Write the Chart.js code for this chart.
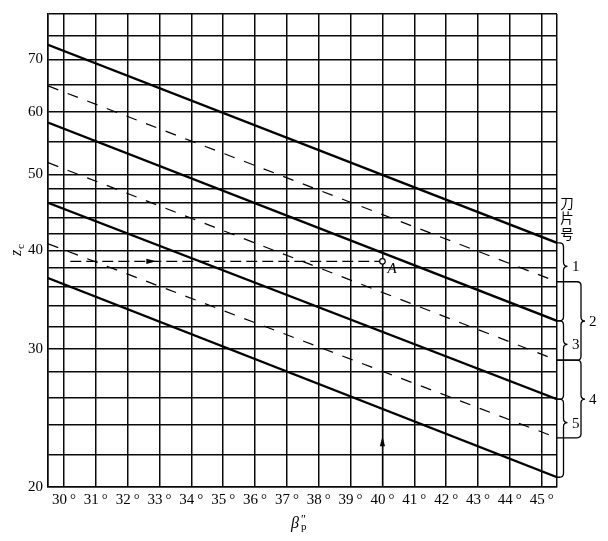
<!DOCTYPE html>
<html>
<head>
<meta charset="utf-8">
<script src="https://cdn.jsdelivr.net/npm/chart.js@4.4.0/dist/chart.umd.min.js"></script>
<style>
html, body { margin: 0; padding: 0; background: #fff; }
</style>
</head>
<body>
<canvas id="zc_chart" width="608" height="541"></canvas>
<script>
// beta_p'' range covered by the lines (degrees)
var x_start = 29.5;
var x_end = 45.48;
var x_ticks = [30, 31, 32, 33, 34, 35, 36, 37, 38, 39, 40, 41, 42, 43, 44, 45];

// z_c grid (log axis) and labelled values
var y_ticks = [20, 22, 24, 26, 28, 30, 32, 34, 36, 38, 40, 42, 44, 46, 48, 50, 55, 60, 65, 70, 75, 80];
var y_labels = [20, 30, 40, 50, 60, 70];

// solid boundary lines: z_c at the left edge / right edge
var solid_left = [73.1, 58.2, 46.0, 36.9];
var solid_right = [40.9, 32.55, 25.87, 20.58];

// dashed boundary lines
var dashed_left = [64.8, 51.75, 40.8];
var dashed_right = [36.5, 29.0, 23.1];

// cutter numbers (刀片号)
var cutter_solid = ['1', '3', '5'];
var cutter_dashed = ['2', '4'];

// worked example, point A
var point_a = { x: 40, y: 38.75 };
var guide_start = 30.2;
var guide_arrow = 32.9;
var up_arrow = 23.2;

var serif = '"Liberation Serif", "DejaVu Serif", serif';
var ink = '#0a0a0a';

var datasets = [];
for (var i = 0; i < solid_left.length; i++) {
	datasets.push({
		data: [{ x: x_start, y: solid_left[i] }, { x: x_end, y: solid_right[i] }],
		borderColor: '#000',
		borderWidth: 2.4,
		pointRadius: 0
	});
}
for (var j = 0; j < dashed_left.length; j++) {
	datasets.push({
		data: [{ x: x_start, y: dashed_left[j] }, { x: x_end, y: dashed_right[j] }],
		borderColor: '#000',
		borderWidth: 1.2,
		borderDash: [11, 10],
		pointRadius: 0
	});
}
datasets.push({
	data: [{ x: guide_start, y: point_a.y }, { x: point_a.x, y: point_a.y }],
	borderColor: '#000',
	borderWidth: 1.2,
	borderDash: [11, 5],
	pointRadius: [0, 2.8],
	pointBackgroundColor: '#fff',
	pointBorderColor: '#000',
	pointBorderWidth: 1.2
});

function brace(ctx, x0, xv, y1, y2, yt, r) {
	ctx.beginPath();
	ctx.moveTo(x0, y1);
	ctx.lineTo(xv - r, y1);
	ctx.quadraticCurveTo(xv, y1, xv, y1 + r);
	ctx.lineTo(xv, yt - r);
	ctx.quadraticCurveTo(xv, yt, xv + r, yt);
	ctx.quadraticCurveTo(xv, yt, xv, yt + r);
	ctx.lineTo(xv, y2 - r);
	ctx.quadraticCurveTo(xv, y2, xv - r, y2);
	ctx.lineTo(x0, y2);
	ctx.stroke();
}

var white_bg = {
	id: 'white_bg',
	beforeDraw: function(chart) {
		var ctx = chart.ctx;
		ctx.save();
		ctx.fillStyle = '#fff';
		ctx.fillRect(0, 0, chart.width, chart.height);
		ctx.restore();
	}
};

var notes = {
	id: 'notes',
	afterDatasetsDraw: function(chart) {
		var ctx = chart.ctx;
		var xs = chart.scales.x, ys = chart.scales.y;
		var area = chart.chartArea;
		ctx.save();
		ctx.strokeStyle = '#000';
		ctx.fillStyle = '#000';
		ctx.lineWidth = 1.2;

		// arrow on the horizontal guide
		var ay = ys.getPixelForValue(point_a.y);
		var tx = xs.getPixelForValue(guide_arrow);
		ctx.beginPath();
		ctx.moveTo(tx, ay);
		ctx.lineTo(tx - 10, ay - 2.6);
		ctx.lineTo(tx - 10, ay + 2.6);
		ctx.closePath();
		ctx.fill();

		// vertical guide at 40 with arrow
		var ax = xs.getPixelForValue(point_a.x);
		var ty = ys.getPixelForValue(up_arrow);
		ctx.beginPath();
		ctx.moveTo(ax, area.bottom);
		ctx.lineTo(ax, ay + 3);
		ctx.stroke();
		ctx.beginPath();
		ctx.moveTo(ax, ty);
		ctx.lineTo(ax - 2.6, ty + 10);
		ctx.lineTo(ax + 2.6, ty + 10);
		ctx.closePath();
		ctx.fill();

		ctx.font = 'italic 15px ' + serif;
		ctx.textBaseline = 'alphabetic';
		ctx.textAlign = 'left';
		ctx.fillText('A', ax + 5, ay + 12);

		// braces for the cutter numbers
		ctx.lineWidth = 1.3;
		ctx.font = '15px ' + serif;
		ctx.textBaseline = 'middle';
		var x0 = area.right;
		for (var i = 0; i < cutter_solid.length; i++) {
			var y1 = ys.getPixelForValue(solid_right[i]);
			var y2 = ys.getPixelForValue(solid_right[i + 1]);
			var yt = y1 + (y2 - y1) * 0.3;
			brace(ctx, x0, x0 + 6.5, y1, y2, yt, 4);
			ctx.fillText(cutter_solid[i], x0 + 15, yt + 1);
		}
		for (var j = 0; j < cutter_dashed.length; j++) {
			var d1 = ys.getPixelForValue(dashed_right[j]);
			var d2 = ys.getPixelForValue(dashed_right[j + 1]);
			var dt = (d1 + d2) / 2;
			brace(ctx, x0, x0 + 24, d1, d2, dt, 4);
			ctx.fillText(cutter_dashed[j], x0 + 32, dt + 1);
		}

		// 刀片号 written top to bottom
		ctx.font = '13.5px "Noto Sans CJK SC"';
		ctx.textAlign = 'center';
		var chars = ['刀', '片', '号'];
		for (var k = 0; k < chars.length; k++) {
			ctx.fillText(chars[k], x0 + 10, 202.5 + k * 15.5);
		}

		// axis titles
		ctx.textAlign = 'left';
		ctx.textBaseline = 'alphabetic';
		ctx.save();
		ctx.translate(21, 256);
		ctx.rotate(-Math.PI / 2);
		ctx.font = 'italic 16px ' + serif;
		ctx.fillText('z', 0, 0);
		ctx.font = '11px ' + serif;
		ctx.fillText('c', 7, 3);
		ctx.restore();

		ctx.font = 'italic 16px ' + serif;
		ctx.fillText('β', 291, 528);
		ctx.font = '12px ' + serif;
		ctx.fillText('″', 301, 523);
		ctx.font = '11px ' + serif;
		ctx.fillText('p', 301, 530);
		ctx.restore();
	}
};

var zc_chart = new Chart(document.getElementById('zc_chart'), {
	type: 'line',
	data: { datasets: datasets },
	plugins: [white_bg, notes],
	options: {
		responsive: false,
		animation: false,
		layout: { padding: { top: 13, right: 51, left: 0, bottom: 0 } },
		plugins: { legend: { display: false }, tooltip: { enabled: false } },
		scales: {
			x: {
				type: 'linear',
				min: x_start,
				max: x_end,
				afterBuildTicks: function(scale) {
					var t = [{ value: x_start }];
					x_ticks.forEach(function(v) { t.push({ value: v }); });
					t.push({ value: x_end });
					scale.ticks = t;
				},
				afterFit: function(scale) { scale.height = 54; },
				grid: { color: ink, lineWidth: 1.5, drawTicks: false },
				border: { color: ink, width: 1.5 },
				ticks: {
					autoSkip: false,
					maxRotation: 0,
					padding: 4,
					color: '#000',
					font: { family: serif, size: 15 },
					callback: function(v) {
						return x_ticks.indexOf(v) >= 0 ? v + '\u2009°' : '';
					}
				}
			},
			y: {
				type: 'logarithmic',
				min: 20,
				max: 80,
				afterBuildTicks: function(scale) {
					scale.ticks = y_ticks.map(function(v) { return { value: v }; });
				},
				afterFit: function(scale) { scale.width = 48; },
				grid: { color: ink, lineWidth: 1.5, drawTicks: false },
				border: { color: ink, width: 1.5 },
				ticks: {
					autoSkip: false,
					padding: 5,
					color: '#000',
					font: { family: serif, size: 15 },
					callback: function(v) {
						return y_labels.indexOf(v) >= 0 ? String(v) : '';
					}
				}
			}
		}
	}
});
</script>
</body>
</html>
